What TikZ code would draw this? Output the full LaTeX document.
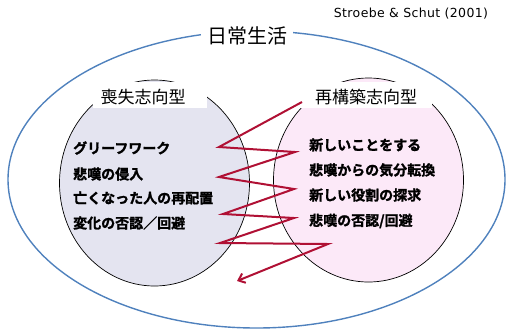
\documentclass[tikz,border=0pt]{standalone}
\usepackage{fontspec}
\usetikzlibrary{arrows.meta}
\newfontfamily\jp{Noto Sans CJK JP}[BoldFont={Noto Sans CJK JP Bold},BoldFeatures={FakeBold=1.5}]
\newfontfamily\citefont{DejaVu Sans}[LetterSpace=3]
\definecolor{outerblue}{RGB}{79,129,189}
\definecolor{lossfill}{RGB}{228,228,240}
\definecolor{restfill}{RGB}{252,233,248}
\definecolor{zigred}{RGB}{176,16,52}
\tikzset{
  item/.style={anchor=west, inner sep=0pt, font=\jp\bfseries\fontsize{14}{15}\selectfont},
  lbl/.style={inner sep=0pt, font=\jp\fontsize{17}{18}\selectfont},
  zig/.style={draw=zigred, line width=2pt, line join=miter}
}
\begin{document}
\begin{tikzpicture}[x=1pt,y=-1pt]
\useasboundingbox (0,0) rectangle (508,333);
% outer ellipse
\draw[outerblue, line width=1.4pt] (256.5,179.5) ellipse [x radius=248.5, y radius=148.5];
\node[fill=white, inner xsep=6pt, inner ysep=2pt, font=\jp\fontsize{20}{22}\selectfont] (title) at (247,36) {日常生活};
\node[font=\citefont\fontsize{12.5}{13}\selectfont, inner sep=0pt] (cite) at (411,14) {Stroebe \& Schut (2001)};
% circles
\draw[fill=lossfill, line width=0.7pt] (154.5,183) ellipse [x radius=95, y radius=103];
\draw[fill=restfill, line width=0.7pt] (368.5,180) ellipse [x radius=95, y radius=102];
% label boxes
\fill[white] (93,82) rectangle (207,108);
\fill[white] (300,82) rectangle (432,108);
\node[lbl] (loss) at (143,97) {喪失志向型};
\node[lbl] (rest) at (366,97) {再構築志向型};
% items
\node[item] (l1) at (73,148) {グリーフワーク};
\node[item] (l2) at (73,174) {悲嘆の侵入};
\node[item] (l3) at (73,198) {亡くなった人の再配置};
\node[item] (l4) at (73,223) {変化の否認／回避};
\node[item] (r1) at (309,145) {新しいことをする};
\node[item] (r2) at (309,170) {悲嘆からの気分転換};
\node[item] (r3) at (309,195) {新しい役割の探求};
\node[item] (r4) at (309,221) {悲嘆の否認/回避};
% zigzag
\coordinate (z0) at (302,102);
\coordinate (z1) at (219,147);
\coordinate (z2) at (295,152);
\coordinate (z3) at (219,177);
\coordinate (z4) at (294,189);
\coordinate (z5) at (223,214);
\coordinate (z6) at (294,218);
\coordinate (z7) at (220,243);
\coordinate (z8) at (328,244);
\coordinate (zend) at (237,281);
\draw[zig, -{Straight Barb[length=6pt,width=10pt]}] (z0) -- (z1) -- (z2) -- (z3) -- (z4) -- (z5) -- (z6) -- (z7) -- (z8) -- (zend);
\end{tikzpicture}
\end{document}
